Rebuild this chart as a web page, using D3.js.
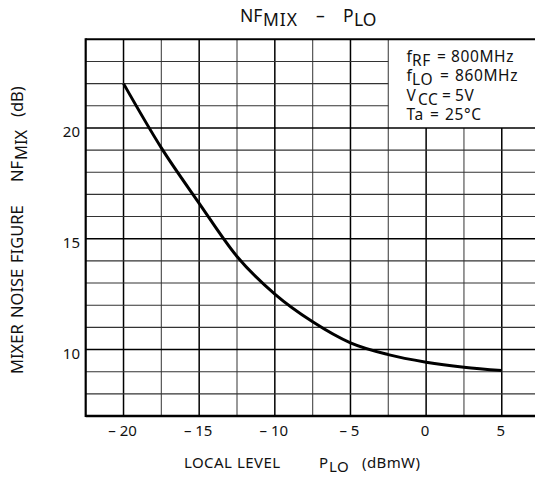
<!DOCTYPE html>
<html>
<head>
    <meta charset="UTF-8" />
    <title>NFmix - PLO</title>
    <script src="https://cdn.jsdelivr.net/npm/d3@7"></script>
    <style type="text/css">
        body {
            margin: 0;
            background-color: #fff;
        }
        svg text {
            font-family: 'Noto Sans', sans-serif;
            fill: #111;
        }
    </style>
</head>
<body>
<div id="chart"></div>
<script>
    // curve
    var pLo = [-20, -17.5, -15, -12.5, -10, -7.5, -5, -2.5, 0, 2.5, 5];
    var nfMix = [22.0, 19.1, 16.6, 14.2, 12.5, 11.25, 10.3, 9.77, 9.43, 9.2, 9.05];

    var xTicks = [-20, -15, -10, -5, 0, 5];
    var yTicks = [10, 15, 20];
    var xGrid = [-20, -17.5, -15, -12.5, -10, -7.5, -5, -2.5, 0, 2.5, 5];
    var yGrid = [8, 9, 10, 11, 12, 13, 14, 15, 16, 17, 18, 19, 20, 21, 22, 23];

    var legendMain = ["f", "f", "V", "Ta"];
    var legendSub = ["RF", "LO", "CC", ""];
    var legendValue = ["800MHz", "860MHz", "5V", "25°C"];

    var w = 535, h = 481;
    var m = {left: 85.7, top: 39.3, right: 539.6, bottom: 416};

    var x = d3.scaleLinear().domain([-22.5, 7.5]).range([m.left, m.right]);
    var y = d3.scaleLinear().domain([7, 24]).range([m.bottom, m.top]);

    var svg = d3.select("#chart")
        .append("svg")
        .attr("width", w)
        .attr("height", h);

    // legend box covers x > -2.5, y > 20
    var boxX = -2.5, boxY = 20;

    // vertical grid
    svg.append("g").selectAll("line")
        .data(xGrid)
        .enter().append("line")
        .attr("x1", function(d){ return x(d); })
        .attr("x2", function(d){ return x(d); })
        .attr("y1", y(7))
        .attr("y2", function(d){ return d > boxX ? y(boxY) : y(24); })
        .attr("stroke", function(d){ return d % 5 === 0 ? "#000" : "#555"; })
        .attr("stroke-width", function(d){ return d % 5 === 0 ? 1.5 : 1.2; });

    // horizontal grid
    svg.append("g").selectAll("line")
        .data(yGrid)
        .enter().append("line")
        .attr("y1", function(d){ return y(d); })
        .attr("y2", function(d){ return y(d); })
        .attr("x1", x(-22.5))
        .attr("x2", function(d){ return d > boxY ? x(boxX) : x(7.5); })
        .attr("stroke", function(d){ return d % 5 === 0 ? "#000" : "#333"; })
        .attr("stroke-width", function(d){ return d % 5 === 0 ? 1.6 : 1.1; });

    // frame
    svg.append("line")
        .attr("x1", x(-22.5)).attr("x2", x(-22.5))
        .attr("y1", y(7) + 1).attr("y2", y(24) - 1)
        .attr("stroke", "#000").attr("stroke-width", 2.2);
    svg.append("line")
        .attr("x1", x(-22.5)).attr("x2", x(7.5))
        .attr("y1", y(7)).attr("y2", y(7))
        .attr("stroke", "#000").attr("stroke-width", 2.4);
    svg.append("line")
        .attr("x1", x(-22.5)).attr("x2", x(7.5))
        .attr("y1", y(24)).attr("y2", y(24))
        .attr("stroke", "#000").attr("stroke-width", 2);

    // curve
    var line = d3.line()
        .x(function(d, i){ return x(pLo[i]); })
        .y(function(d){ return y(d); })
        .curve(d3.curveMonotoneX);

    svg.append("path")
        .datum(nfMix)
        .attr("d", line)
        .attr("fill", "none")
        .attr("stroke", "#000")
        .attr("stroke-width", 3);

    // tick labels
    svg.append("g").selectAll("text")
        .data(xTicks)
        .enter().append("text")
        .attr("x", function(d){ return x(d) - 1; })
        .attr("y", 436)
        .attr("text-anchor", "middle")
        .attr("xml:space", "preserve")
        .style("font-size", "15px")
        .text(function(d){ return d < 0 ? "\u2013 " + Math.abs(d) : d; });

    svg.append("g").selectAll("text")
        .data(yTicks)
        .enter().append("text")
        .attr("x", 80)
        .attr("y", function(d){ return y(d) + 9; })
        .attr("text-anchor", "end")
        .style("font-size", "15px")
        .text(function(d){ return d; });

    // legend text, one text per line with placed tspans
    var eqX = [437, 440, 442, 430];
    var valX = [451, 455, 455, 445];
    var legend = svg.append("g").selectAll("text")
        .data(legendMain)
        .enter().append("text")
        .style("font-size", "15.5px")
        .style("letter-spacing", "0.6px");
    legend.append("tspan")
        .attr("x", 406.5)
        .attr("y", function(d, i){ return 62 + i * 19.3; })
        .text(function(d){ return d; });
    legend.append("tspan")
        .attr("x", function(d){ return d === "f" ? 412 : 418; })
        .attr("y", function(d, i){ return 66 + i * 19.3; })
        .text(function(d, i){ return legendSub[i]; });
    legend.append("tspan")
        .attr("x", function(d, i){ return eqX[i]; })
        .attr("y", function(d, i){ return 62 + i * 19.3; })
        .text("=");
    legend.append("tspan")
        .attr("x", function(d, i){ return valX[i]; })
        .attr("y", function(d, i){ return 62 + i * 19.3; })
        .text(function(d, i){ return legendValue[i]; });

    // title
    var title = svg.append("text").style("font-size", "17.5px");
    title.append("tspan").attr("x", 240).attr("y", 22).text("NF");
    title.append("tspan").attr("x", 263).attr("y", 26).style("letter-spacing", "1px").text("MIX");
    title.append("tspan").attr("x", 316).attr("y", 22).text("\u2013");
    title.append("tspan").attr("x", 343).attr("y", 22).text("P");
    title.append("tspan").attr("x", 354).attr("y", 26).text("LO");

    // x axis label
    var xLabel = svg.append("text").style("font-size", "15px").style("letter-spacing", "0.4px");
    xLabel.append("tspan").attr("x", 184).attr("y", 468).text("LOCAL");
    xLabel.append("tspan").attr("x", 237).attr("y", 468).text("LEVEL");
    xLabel.append("tspan").attr("x", 319).attr("y", 468).text("P");
    xLabel.append("tspan").attr("x", 329).attr("y", 472).text("LO");
    xLabel.append("tspan").attr("x", 362).attr("y", 468).text("(dBmW)");

    // y axis label, rotated: x runs upward along the page
    var yLabel = svg.append("text")
        .attr("transform", "translate(23,0) rotate(-90)")
        .style("font-size", "16.5px");
    yLabel.append("tspan").attr("x", -374).attr("y", 0).text("MIXER");
    yLabel.append("tspan").attr("x", -318).attr("y", 0).text("NOISE");
    yLabel.append("tspan").attr("x", -263).attr("y", 0).text("FIGURE");
    yLabel.append("tspan").attr("x", -182).attr("y", 0).text("NF");
    yLabel.append("tspan").attr("x", -160).attr("y", 4).text("MIX");
    yLabel.append("tspan").attr("x", -117).attr("y", 0).text("(dB)");
</script>
</body>
</html>
